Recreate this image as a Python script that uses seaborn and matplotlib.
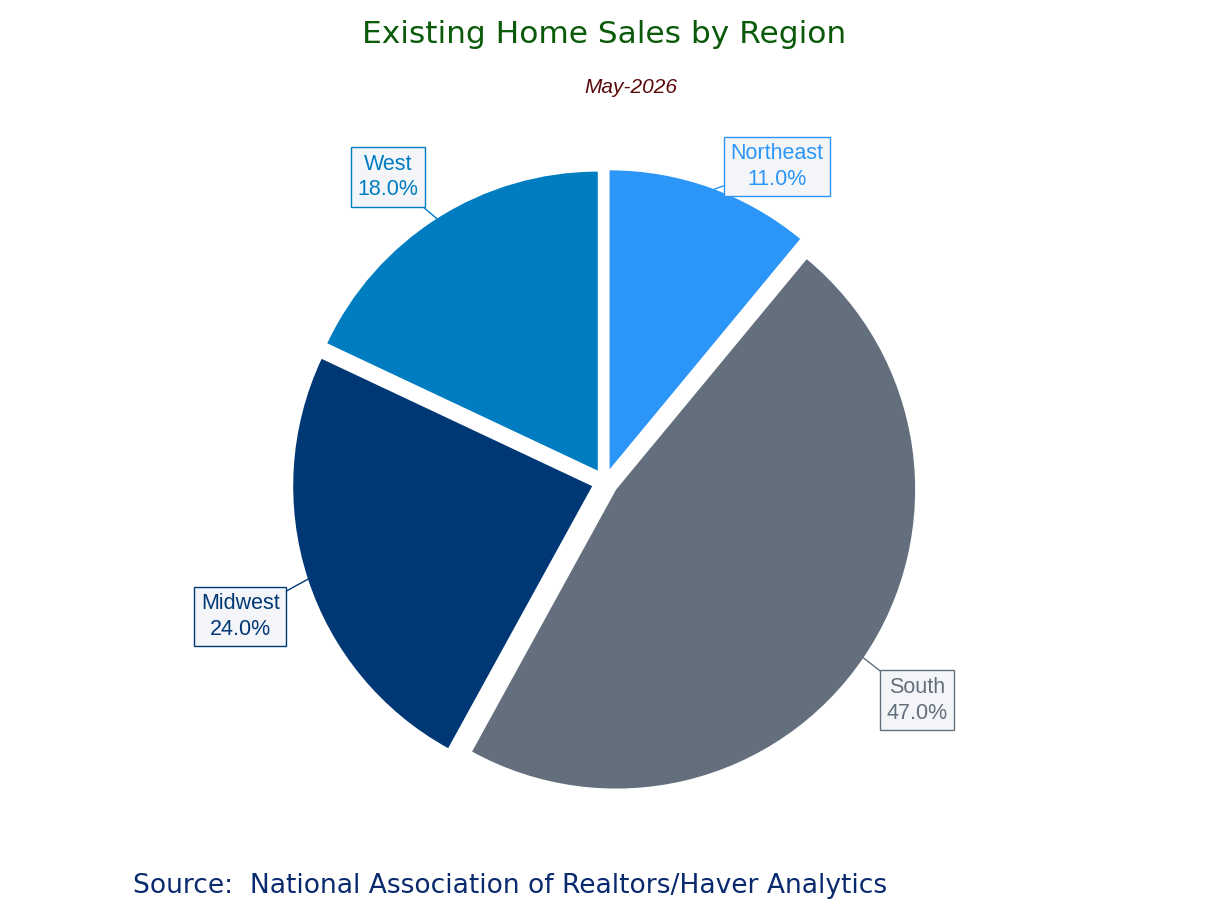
import numpy as np
import matplotlib
matplotlib.use("Agg")
import matplotlib.pyplot as plt
import seaborn as sns

regions = ["Northeast", "South", "Midwest", "West"]
shares = [11.0, 47.0, 24.0, 18.0]
slice_colors = ["#2B96F7", "#636F7C", "#003876", "#007DC1"]
# label box centres (data units, pie radius = 1)
label_pos = [(0.575, 1.055), (1.045, -0.73), (-1.22, -0.45), (-0.725, 1.02)]

sns.set_theme(style="white")
plt.rcParams["font.family"] = ["Liberation Sans", "DejaVu Sans"]

fig = plt.figure(figsize=(12.08, 9.06), dpi=100)
fig.patch.set_facecolor("white")

# pie centre ~ (605, 482) px, radius ~ 299 px
cx, cy, r_px = 605, 482, 299
lim = 1.3
size = 2 * lim * r_px
ax = fig.add_axes([(cx - size / 2) / 1208, (906 - cy - size / 2) / 906,
                   size / 1208, size / 906])

wedges, _ = ax.pie(
    shares,
    colors=slice_colors,
    startangle=90,
    counterclock=False,
    explode=[0.045] * len(shares),
    wedgeprops=dict(linewidth=0),
)
ax.set_xlim(-lim, lim)
ax.set_ylim(-lim, lim)
ax.set_aspect("equal")
ax.axis("off")

for w, name, val, col, (tx, ty) in zip(wedges, regions, shares, slice_colors, label_pos):
    ang = np.deg2rad((w.theta1 + w.theta2) / 2)
    cxw, cyw = w.center
    px = cxw + 0.99 * np.cos(ang)
    py = cyw + 0.99 * np.sin(ang)
    ax.annotate(
        f"{name}\n{val:.1f}%",
        xy=(px, py),
        xytext=(tx, ty),
        ha="center",
        va="center",
        fontsize=15.5,
        color=col,
        linespacing=1.3,
        bbox=dict(boxstyle="square,pad=0.3", fc="#F4F5F8", ec=col, lw=1),
        arrowprops=dict(arrowstyle="-", color=col, lw=1, shrinkA=0, shrinkB=0),
    )

fig.text(0.5, 0.962, "Existing Home Sales by Region", ha="center", va="center",
         fontsize=22.5, color="#0A5A0A", family="DejaVu Sans")
fig.text(0.522, 0.903, "May-2026", ha="center", va="center",
         fontsize=15, color="#5A0A0A", style="italic")
fig.text(0.11, 0.022, "Source:  National Association of Realtors/Haver Analytics",
         ha="left", va="center", fontsize=19.1, color="#0A2A6E", family="DejaVu Sans")

fig.savefig("out.png", dpi=100)
plt.close(fig)
